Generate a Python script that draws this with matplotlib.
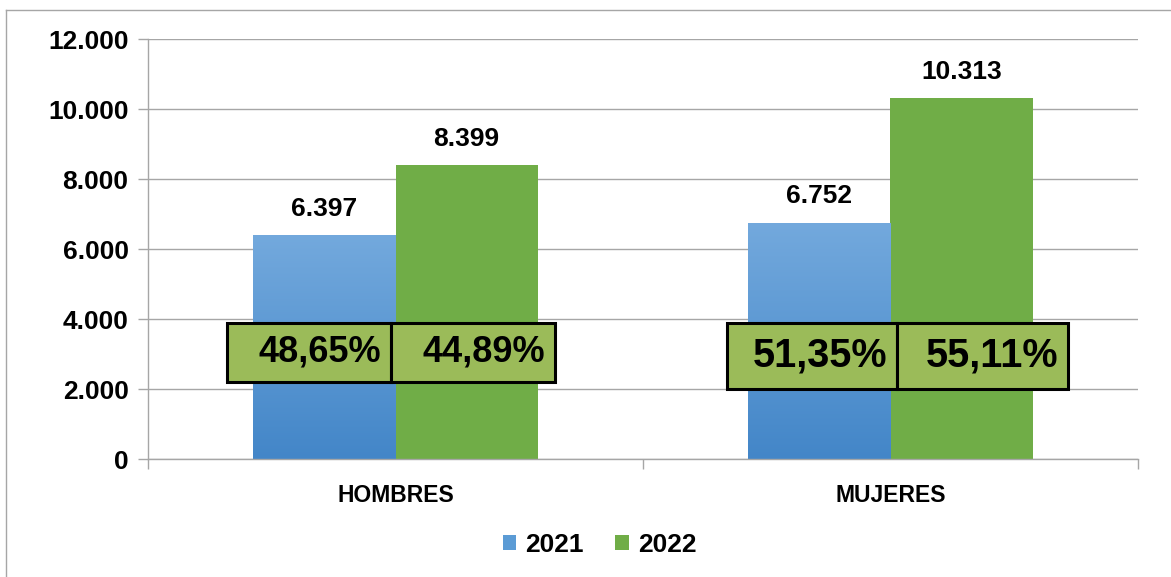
import matplotlib
matplotlib.use("Agg")
import matplotlib.pyplot as plt
import numpy as np
from matplotlib.patches import Rectangle
from matplotlib.colors import LinearSegmentedColormap
from matplotlib.lines import Line2D

categorias = ["HOMBRES", "MUJERES"]
anios = ["2021", "2022"]
valores_2021 = [6397, 6752]
valores_2022 = [8399, 10313]
etiquetas_2021 = ["6.397", "6.752"]
etiquetas_2022 = ["8.399", "10.313"]
pct_2021 = ["48,65%", "51,35%"]
pct_2022 = ["44,89%", "55,11%"]
yticks = [0, 2000, 4000, 6000, 8000, 10000, 12000]
ytick_labels = ["0", "2.000", "4.000", "6.000", "8.000", "10.000", "12.000"]

plt.rcParams['font.family'] = ['Liberation Sans', 'DejaVu Sans']
plt.rcParams['font.weight'] = 'bold'

fig = plt.figure(figsize=(11.71, 5.77), dpi=100)
ax = fig.add_axes([0.1264, 0.2045, 0.8454, 0.7279])

x = np.arange(len(categorias))
w = 0.287
azul = "#5B9BD5"
verde = "#70AD47"

b1 = ax.bar(x - w / 2, valores_2021, w, color=azul, zorder=2, label=anios[0])
b2 = ax.bar(x + w / 2, valores_2022, w, color=verde, zorder=2, label=anios[1])

# degradado de las barras azules
cmap = LinearSegmentedColormap.from_list("az", ["#4386C8", "#73A9DD"])
grad = np.linspace(0, 1, 256).reshape(-1, 1)
for r in b1:
    im = ax.imshow(grad, cmap=cmap, origin="lower", aspect="auto", zorder=2.1,
                   extent=[r.get_x(), r.get_x() + r.get_width(), 0, r.get_height()])
    im.set_clip_path(r)

for r, t in zip(list(b1) + list(b2), etiquetas_2021 + etiquetas_2022):
    ax.annotate(t, (r.get_x() + r.get_width() / 2, r.get_height()), xytext=(0, 19),
                textcoords="offset points", ha="center", va="center", fontsize=19, fontweight="bold")

# cajas de porcentaje
cajas = [(-0.340, -0.009, 0.322, 2200, 3886, 26), (0.670, 1.013, 1.359, 2000, 3886, 28.5)]
for (x0, xm, x1, y0, y1, fs), p1, p2 in zip(cajas, pct_2021, pct_2022):
    for a, b, txt in [(x0, xm, p1), (xm, x1, p2)]:
        ax.add_patch(Rectangle((a, y0), b - a, y1 - y0, facecolor="#9BBB59",
                               edgecolor="black", linewidth=2.2, zorder=3))
        ax.annotate(txt, (b, (y0 + y1) / 2), xytext=(-7, 0), textcoords="offset points",
                    ha="right", va="center", fontsize=fs, fontweight="bold", zorder=4)

ax.set_xlim(-0.5, 1.5)
ax.set_ylim(0, 12000)
ax.set_yticks(yticks)
ax.set_yticklabels(ytick_labels, fontsize=19, fontweight="bold")
ax.set_xticks(x)
ax.set_xticklabels(categorias, fontsize=16.5, fontweight="bold")
ax.set_xticks([-0.5, 0.5, 1.5], minor=True)
ax.tick_params(axis="x", which="major", length=0, pad=18)
ax.tick_params(axis="x", which="minor", length=7, color="#A6A6A6", width=1)
ax.tick_params(axis="y", length=7, color="#A6A6A6", width=1, pad=7)
ax.grid(axis="y", color="#A6A6A6", linewidth=1, zorder=0)
ax.set_axisbelow(True)
for s in ["top", "right"]:
    ax.spines[s].set_visible(False)
for s in ["left", "bottom"]:
    ax.spines[s].set_color("#A6A6A6")
    ax.spines[s].set_linewidth(1)

fig.legend(handles=[b1, b2], labels=anios, loc="center", bbox_to_anchor=(0.512, 0.055),
           ncol=2, frameon=False, prop={"weight": "bold", "size": 19},
           handlelength=0.5, handleheight=0.5, handletextpad=0.35, columnspacing=1.2)

# borde exterior
fig.add_artist(Line2D([6 / 1171, 1], [1 - 10 / 577, 1 - 10 / 577], color="#A6A6A6", linewidth=1))
fig.add_artist(Line2D([6 / 1171, 6 / 1171], [0, 1 - 10 / 577], color="#A6A6A6", linewidth=1))

plt.savefig("out.png", dpi=100)
